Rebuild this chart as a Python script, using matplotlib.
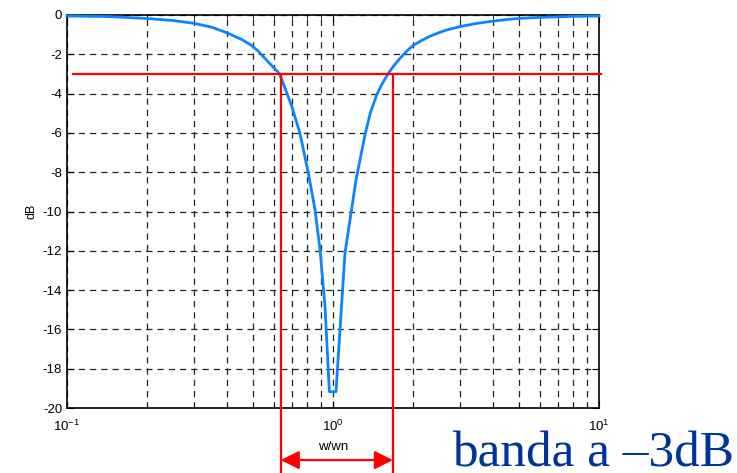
import math
import matplotlib
matplotlib.use("Agg")
import matplotlib.pyplot as plt
from matplotlib.ticker import LogLocator, FixedLocator, FuncFormatter

plt.rcParams['font.family'] = ['Liberation Sans', 'DejaVu Sans']
plt.rcParams['mathtext.default'] = 'regular'

# Curve (w/wn, dB)
freq = [0.100, 0.141, 0.150, 0.200, 0.250, 0.299, 0.350, 0.398, 0.450, 0.488,
        0.520, 0.563, 0.590, 0.621, 0.632, 0.699, 0.751, 0.808, 0.856, 0.894,
        0.933, 0.969, 1.026, 1.109, 1.22, 1.319, 1.38, 1.459, 1.53, 1.614,
        1.70, 1.786, 1.90, 2.0, 2.15, 2.316, 2.50, 2.676, 3.0, 3.5, 4.0,
        4.5, 5.05, 6.0, 8.0, 10.0]
mag_db = [-0.05, -0.08, -0.09, -0.18, -0.28, -0.42, -0.62, -0.90, -1.22, -1.50,
          -1.80, -2.30, -2.60, -2.90, -3.05, -4.62, -6.02, -8.06, -9.92, -11.96,
          -14.84, -19.17, -19.17, -12.13, -8.4, -6.1, -5.0, -4.07, -3.5, -2.97,
          -2.55, -2.2, -1.82, -1.55, -1.30, -1.08, -0.90, -0.76, -0.59, -0.42, -0.31,
          -0.23, -0.17, -0.12, -0.07, -0.05]

level_db = -3
band_lo = 0.636
band_hi = 1.68
hline_span = [0.1053, 10.17]
yticks = list(range(-20, 1, 2))
band_label = "banda a \u20133dB"

fig = plt.figure(figsize=(7.37, 4.73), dpi=100)
ax = fig.add_axes([0.0909, 0.1374, 0.8128 - 0.0909, 0.9683 - 0.1374])

ax.set_xscale('log')
ax.set_xlim(0.1, 10)
ax.set_ylim(-20, 0)

ax.plot(freq, mag_db, color='#0a84ff', lw=2.0, zorder=3, clip_on=False)

ax.set_yticks(yticks)
ax.yaxis.set_major_formatter(FuncFormatter(lambda v, p: f"{int(v)}"))
ax.xaxis.set_major_locator(FixedLocator([0.1, 1, 10]))
ax.xaxis.set_minor_locator(LogLocator(base=10, subs=range(2, 10)))
ax.xaxis.set_major_formatter(FuncFormatter(lambda v, p: r"$10^{%d}$" % round(math.log10(v))))

ax.grid(True, which='major', axis='both', color='#222222', ls=(0, (5, 4)), lw=0.9)
ax.grid(True, which='minor', axis='x', color='#222222', ls=(0, (5, 4)), lw=0.9)
ax.set_axisbelow(True)

ax.tick_params(which='both', direction='in', top=True, right=True, labelsize=9.5)
ax.tick_params(which='major', length=5)
ax.tick_params(which='minor', length=3)
ax.tick_params(axis='x', pad=8)
for s in ax.spines.values():
    s.set_linewidth(1.2)
    s.set_color('black')

ax.set_ylabel('dB', fontsize=9)
ax.yaxis.set_label_coords(-0.055, 0.5)
ax.set_xlabel('w/wn', fontsize=9.5, labelpad=5)

# red -3 dB lines
ax.plot(hline_span, [level_db, level_db], color='red', lw=1.6, zorder=4, clip_on=False)
for b in (band_lo, band_hi):
    ax.plot([b, b], [level_db, -23.5], color='red', lw=1.6, zorder=4, clip_on=False)

ax.annotate('', xy=(band_hi, -22.65), xytext=(band_lo, -22.65), xycoords='data',
            annotation_clip=False,
            arrowprops=dict(arrowstyle='<|-|>,head_length=0.8,head_width=0.4',
                            mutation_scale=14, color='red', lw=1.6,
                            shrinkA=0, shrinkB=0))

fig.text(734 / 737, 1 - 466 / 473, band_label, ha='right', va='baseline',
         fontsize=37, color='#003399', family=['Liberation Serif', 'DejaVu Serif'])

fig.savefig('out.png', dpi=100)
